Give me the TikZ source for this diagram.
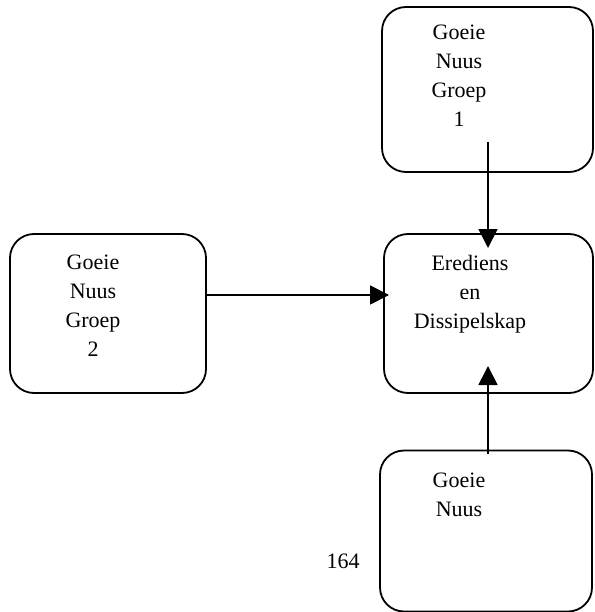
\documentclass[tikz,border=0pt]{standalone}
\usepackage{fontspec}
\setmainfont{Liberation Serif}
\usetikzlibrary{arrows.meta}
\tikzset{
  box/.style={draw, line width=1.8pt, rounded corners=24pt, inner sep=0pt},
  lbl/.style={align=center, anchor=north, inner sep=0pt, font=\fontsize{22}{29}\selectfont},
  arr/.style={line width=1.8pt, -{Triangle[length=19pt,width=19pt]}, shorten >=0pt}
}
\begin{document}
\begin{tikzpicture}[x=1pt,y=-1pt]
\useasboundingbox (0,0) rectangle (594,612);
% boxes
\node[box, minimum width=211pt, minimum height=165pt] (g1) at (487.5,89.5) {};
\node[box, minimum width=196pt, minimum height=159pt] (g2) at (108,313.5) {};
\node[box, minimum width=209pt, minimum height=159pt] (ed) at (488.5,313.5) {};
\node[box, minimum width=212pt, minimum height=161pt] (g3) at (486,531) {};
% texts
\node[lbl] (t1) at (459,25) {Goeie\\Nuus\\Groep\\1};
\node[lbl] (t2) at (93,255) {Goeie\\Nuus\\Groep\\2};
\node[lbl] (te) at (470,255) {Erediens\\en\\Dissipelskap};
\node[lbl] (t3) at (459,473) {Goeie\\Nuus};
\node[anchor=base, inner sep=0pt, font=\fontsize{22}{29}\selectfont] (pg) at (343,568) {164};
% arrow end points
\coordinate (a1s) at (488,142);
\coordinate (a1e) at (488,248);
\coordinate (a2s) at (g2.east |- 0,295);
\coordinate (a2e) at (389,295);
\coordinate (a3s) at (488,454);
\coordinate (a3e) at (488,366);
\draw[arr] (a1s) -- (a1e);
\draw[arr] (a2s) -- (a2e);
\draw[arr] (a3s) -- (a3e);
\end{tikzpicture}
\end{document}
